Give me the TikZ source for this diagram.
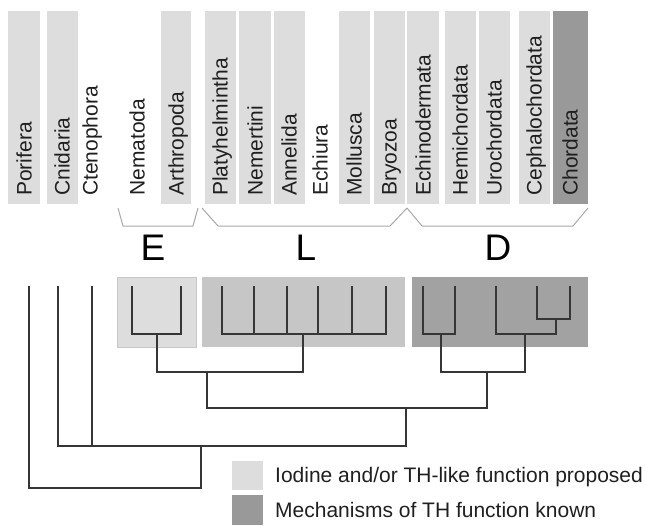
\documentclass[tikz,border=0pt]{standalone}
\usepackage{fontspec}
\setmainfont{Liberation Sans}
\definecolor{lightbox}{HTML}{DDDDDD}
\definecolor{lboxfill}{HTML}{C6C6C6}
\definecolor{dboxfill}{HTML}{A2A2A2}
\definecolor{darkbox}{HTML}{999999}
\definecolor{treeline}{HTML}{363636}
\definecolor{braceline}{HTML}{A8A8A8}
\begin{document}
\begin{tikzpicture}[x=1pt,y=-1pt,
  taxon/.style={rotate=90,anchor=west,inner sep=0pt,text height=15pt,text depth=0pt,
    text=black!88,font=\fontsize{21}{24}\selectfont},
  clade/.style={draw=treeline,line width=1.3pt,line cap=rect},
  brace/.style={draw=braceline,line width=1pt},
  group/.style={font=\fontsize{37}{40}\selectfont},
  legend/.style={anchor=base west,inner sep=0pt,text=black!88,font=\fontsize{21}{24}\selectfont}]
\useasboundingbox (0,0) rectangle (645,525);

\path[fill=lightbox] (8,11) rectangle (40,204);
\path[fill=lightbox] (47,11) rectangle (78,204);
\path[fill=lightbox] (161,11) rectangle (191,204);
\path[fill=lightbox] (205,11) rectangle (236,204);
\path[fill=lightbox] (239,11) rectangle (271,204);
\path[fill=lightbox] (274,11) rectangle (305,204);
\path[fill=lightbox] (339,11) rectangle (370,204);
\path[fill=lightbox] (374,11) rectangle (405,204);
\path[fill=lightbox] (407,11) rectangle (439,204);
\path[fill=lightbox] (445,11) rectangle (476,204);
\path[fill=lightbox] (479,11) rectangle (510,204);
\path[fill=lightbox] (519,11) rectangle (550,204);
\path[fill=darkbox] (553,11) rectangle (588,204);

\node[taxon] (porL) at (24,196) {Porifera};
\node[taxon] (cniL) at (62,196) {Cnidaria};
\node[taxon] (cteL) at (90,196) {Ctenophora};
\node[taxon] (nemL) at (137,196) {Nematoda};
\node[taxon] (artL) at (176,196) {Arthropoda};
\node[taxon] (plaL) at (220,196) {Platyhelmintha};
\node[taxon] (nmtL) at (255,196) {Nemertini};
\node[taxon] (annL) at (289,196) {Annelida};
\node[taxon] (echL) at (320,196) {Echiura};
\node[taxon] (molL) at (354,196) {Mollusca};
\node[taxon] (bryL) at (389,196) {Bryozoa};
\node[taxon] (ecdL) at (423,196) {Echinodermata};
\node[taxon] (hemL) at (460,196) {Hemichordata};
\node[taxon] (uroL) at (494,196) {Urochordata};
\node[taxon] (cepL) at (534,196) {Cephalochordata};
\node[taxon] (choL) at (570,196) {Chordata};

\path[brace] (118,208) -- (123,226) -- (193,226) -- (198,208);
\path[brace] (202,208) -- (218,226) -- (390,226) -- (407,208);
\path[brace] (407,208) -- (422,226) -- (573,226) -- (588,208);

\node[group] (eLab) at (153,248) {E};
\node[group] (lLab) at (306,248) {L};
\node[group] (dLab) at (498,248) {D};

\path[fill=lightbox,draw=black!22] (117,277) rectangle (196,347);
\path[fill=lboxfill] (202,277) rectangle (405,347);
\path[fill=dboxfill] (412,277) rectangle (588,347);

\coordinate (porT) at (29,287);
\coordinate (cniT) at (58,287);
\coordinate (cteT) at (92,287);
\coordinate (nemT) at (132,287);
\coordinate (artT) at (181,287);
\coordinate (plaT) at (222,287);
\coordinate (nmtT) at (254,287);
\coordinate (annT) at (287,287);
\coordinate (echT) at (318,287);
\coordinate (molT) at (352,287);
\coordinate (bryT) at (386,287);
\coordinate (ecdT) at (423,287);
\coordinate (hemT) at (455,287);
\coordinate (uroT) at (496,287);
\coordinate (cepT) at (537,287);
\coordinate (choT) at (570,287);

\coordinate (ecdys) at (157,334);
\coordinate (lopho) at (303,334);
\coordinate (ambul) at (441,334);
\coordinate (olfac) at (556,319);
\coordinate (chord) at (525,334);
\coordinate (proto) at (207,372);
\coordinate (deut) at (487,372);
\coordinate (bilat) at (406,408);
\coordinate (eumet) at (201,446);
\coordinate (root) at (201,488);

\path[clade] (nemT) |- (ecdys) -| (artT);
\path[clade] (plaT) |- (lopho) -| (bryT);
\path[clade] (nmtT) -- (nmtT |- lopho);
\path[clade] (annT) -- (annT |- lopho);
\path[clade] (echT) -- (echT |- lopho);
\path[clade] (molT) -- (molT |- lopho);
\path[clade] (ecdT) |- (ambul) -| (hemT);
\path[clade] (cepT) |- (olfac) -| (choT);
\path[clade] (uroT) |- (chord) -| (olfac);
\path[clade] (ecdys) |- (proto) -| (lopho);
\path[clade] (ambul) |- (deut) -| (chord);
\path[clade] (proto) |- (bilat) -| (deut);
\path[clade] (cniT) |- (eumet) -| (bilat);
\path[clade] (cteT) -- (cteT |- eumet);
\path[clade] (porT) |- (root) -- (eumet);

\path[fill=lightbox] (232,461) rectangle (263,490);
\path[fill=darkbox] (232,495) rectangle (263,525);
\node[legend] (propL) at (275,482) {Iodine and/or TH-like function proposed};
\node[legend] (knownL) at (275,517) {Mechanisms of TH function known};
\end{tikzpicture}
\end{document}
